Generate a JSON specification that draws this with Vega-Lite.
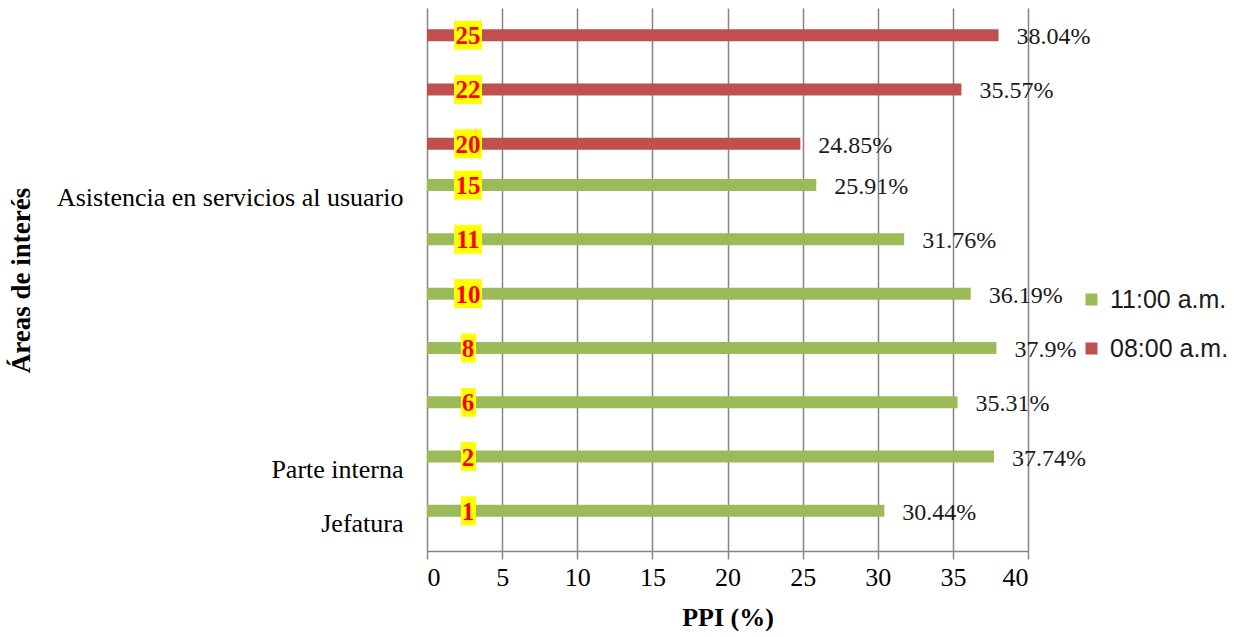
{
  "$schema": "https://vega.github.io/schema/vega-lite/v6.json",
  "width": 601,
  "height": 543,
  "autosize": "none",
  "padding": {"left": 427, "top": 8, "right": 209, "bottom": 86},
  "background": "white",
  "config": {
    "view": {"stroke": null},
    "font": "Liberation Serif"
  },
  "data": {
    "values": [
      {"n": "25", "serie": "08:00 a.m.", "ppi": 38.04},
      {"n": "22", "serie": "08:00 a.m.", "ppi": 35.57},
      {"n": "20", "serie": "08:00 a.m.", "ppi": 24.85},
      {"n": "15", "serie": "11:00 a.m.", "ppi": 25.91},
      {"n": "11", "serie": "11:00 a.m.", "ppi": 31.76},
      {"n": "10", "serie": "11:00 a.m.", "ppi": 36.19},
      {"n": "8", "serie": "11:00 a.m.", "ppi": 37.9},
      {"n": "6", "serie": "11:00 a.m.", "ppi": 35.31},
      {"n": "2", "serie": "11:00 a.m.", "ppi": 37.74},
      {"n": "1", "serie": "11:00 a.m.", "ppi": 30.44}
    ]
  },
  "transform": [
    {"calculate": "format(datum.ppi, '.2~f') + '%'", "as": "etiqueta"}
  ],
  "encoding": {
    "y": {
      "field": "n",
      "type": "nominal",
      "scale": {
        "domain": ["25", "22", "20", "15", "11", "10", "8", "6", "2", "1"],
        "paddingInner": 0,
        "paddingOuter": 0
      },
      "axis": {
        "title": "Áreas de interés",
        "titleFont": "Liberation Serif",
        "titleFontSize": 27,
        "titleFontWeight": "bold",
        "titleColor": "#000000",
        "titleX": -392,
        "titleY": 272,
        "labelExpr": "datum.value == '15' ? 'Asistencia en servicios al usuario' : datum.value == '2' ? 'Parte interna' : datum.value == '1' ? 'Jefatura' : ''",
        "labelFont": "Liberation Serif",
        "labelFontSize": 26,
        "labelColor": "#000000",
        "labelLimit": 0,
        "labelPadding": 24,
        "labelBaseline": "middle",
        "ticks": false,
        "domain": false,
        "grid": false
      }
    },
    "x": {
      "field": "ppi",
      "type": "quantitative",
      "scale": {"domain": [0, 40], "nice": false, "zero": true},
      "axis": {
        "title": "PPI (%)",
        "titleFont": "Liberation Serif",
        "titleFontSize": 26,
        "titleFontWeight": "bold",
        "titleColor": "#000000",
        "titlePadding": 14,
        "values": [0, 5, 10, 15, 20, 25, 30, 35, 40],
        "labelFont": "Liberation Serif",
        "labelFontSize": 26,
        "labelColor": "#000000",
        "labelPadding": 5,
        "grid": true,
        "gridColor": "#858585",
        "gridWidth": 1.5,
        "domainColor": "#858585",
        "domainWidth": 1.5,
        "tickColor": "#858585",
        "tickWidth": 1.5,
        "tickSize": 8
      }
    }
  },
  "layer": [
    {
      "transform": [{"filter": "datum.serie == '11:00 a.m.'"}],
      "layer": [
        {
          "mark": {"type": "bar", "size": 12, "yOffset": -13},
          "encoding": {
            "color": {
              "field": "serie",
              "type": "nominal",
              "scale": {"domain": ["11:00 a.m.", "08:00 a.m."], "range": ["#9bbb59", "#c0504d"]},
              "legend": {
                "title": null,
                "orient": "none",
                "legendX": 652,
                "legendY": 279,
                "symbolType": "square",
                "symbolSize": 144,
                "symbolStrokeWidth": 0,
                "labelFont": "Liberation Sans",
                "labelFontSize": 25,
                "labelColor": "#1a1a1a",
                "labelOffset": 6,
                "rowPadding": 23
              }
            }
          }
        },
        {
          "transform": [{"filter": "length(datum.n) == 2"}],
          "mark": {"type": "bar", "size": 29, "yOffset": -13, "color": "#ffff00"},
          "encoding": {"x": {"datum": 1.8}, "x2": {"datum": 3.66}}
        },
        {
          "transform": [{"filter": "length(datum.n) == 1"}],
          "mark": {"type": "bar", "size": 29, "yOffset": -13, "color": "#ffff00"},
          "encoding": {"x": {"datum": 2.26}, "x2": {"datum": 3.26}}
        },
        {
          "mark": {"type": "text", "yOffset": -12, "align": "center", "baseline": "middle", "font": "Liberation Serif", "fontWeight": "bold", "fontSize": 25, "color": "#ff0000"},
          "encoding": {"x": {"datum": 2.73}, "text": {"field": "n"}}
        },
        {
          "mark": {"type": "text", "yOffset": -11, "dx": 18, "align": "left", "baseline": "middle", "font": "Liberation Serif", "fontSize": 24, "color": "#1a1a1a"},
          "encoding": {"text": {"field": "etiqueta"}}
        }
      ]
    },
    {
      "transform": [{"filter": "datum.serie == '08:00 a.m.'"}],
      "layer": [
        {
          "mark": {"type": "bar", "size": 12},
          "encoding": {
            "color": {"field": "serie", "type": "nominal"}
          }
        },
        {
          "mark": {"type": "bar", "size": 29, "color": "#ffff00"},
          "encoding": {"x": {"datum": 1.8}, "x2": {"datum": 3.66}}
        },
        {
          "mark": {"type": "text", "yOffset": 1, "align": "center", "baseline": "middle", "font": "Liberation Serif", "fontWeight": "bold", "fontSize": 25, "color": "#ff0000"},
          "encoding": {"x": {"datum": 2.73}, "text": {"field": "n"}}
        },
        {
          "mark": {"type": "text", "yOffset": 2, "dx": 18, "align": "left", "baseline": "middle", "font": "Liberation Serif", "fontSize": 24, "color": "#1a1a1a"},
          "encoding": {"text": {"field": "etiqueta"}}
        }
      ]
    }
  ]
}
